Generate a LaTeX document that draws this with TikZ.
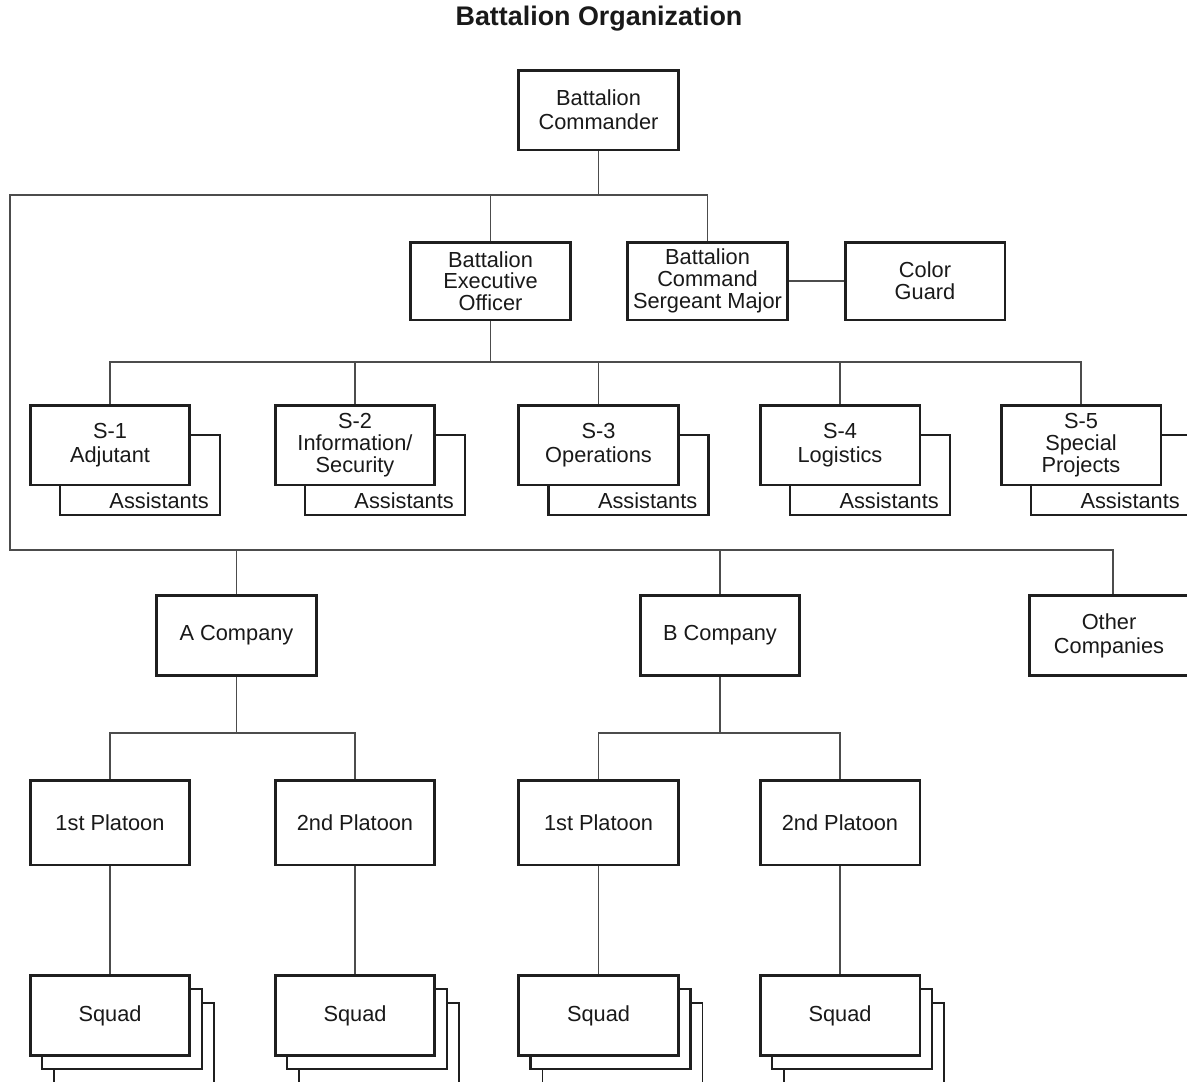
\documentclass[tikz,border=0pt]{standalone}
\usepackage{fontspec}
\setmainfont{Liberation Sans}
\begin{document}
\begin{tikzpicture}[x=0.02cm,y=-0.02cm,
  box/.style={draw=black!88, line width=1.7pt, fill=white, align=center, inner sep=0pt,
    minimum width=3.2cm, minimum height=1.6cm, text=black!90,
    font=\fontsize{12.4}{13.8}\selectfont},
  tight/.style={font=\fontsize{12.4}{12.4}\selectfont},
  backbox/.style={draw=black!88, line width=1.3pt, fill=white, inner sep=0pt,
    minimum width=3.2cm, minimum height=1.6cm},
  backthin/.style={draw=black!88, line width=0.9pt, fill=white, inner sep=0pt,
    minimum width=3.2cm, minimum height=1.6cm},
  conn/.style={draw=black!70, line width=0.7pt},
  asst/.style={anchor=south east, inner sep=0pt, text=black!90,
    font=\fontsize{12.4}{13.8}\selectfont}
]
\path[use as bounding box] (0,0) rectangle (1187,1082);

\node[font=\bfseries\fontsize{15.3}{17}\selectfont, text=black!90] (title) at (599,19) {Battalion Organization};

% top level
\node[box] (cmd) at (598.5,110) {Battalion\\Commander};
\node[box, tight, minimum height=1.56cm] (xo) at (490.5,281) {Battalion\\Executive\\Officer};
\node[box, tight, minimum height=1.56cm] (csm) at (707.5,281) {Battalion\\Command\\Sergeant Major};
\node[box, tight, minimum height=1.56cm] (cg) at (925,281) {Color\\Guard};

% staff sections with assistants
\foreach \n/\x in {a1/110, a2/355, a3/598.5, a4/840, a5/1081}{
  \node[backbox] (\n) at (\x+30,475) {};
  \node[asst] (\n t) at ([xshift=-0.24cm,yshift=0.14cm]\n.south east) {Assistants};
}
\node[box] (s1) at (110,445) {S-1\\Adjutant};
\node[box, tight] (s2) at (355,445) {S-2\\Information/\\Security};
\node[box] (s3) at (598.5,445) {S-3\\Operations};
\node[box] (s4) at (840,445) {S-4\\Logistics};
\node[box, tight] (s5) at (1081,445) {S-5\\Special\\Projects};

% companies
\node[box] (ac) at (236.5,635.5) {A Company};
\node[box] (bc) at (720,635.5) {B Company};
\node[box] (oc) at (1109,635.5) {Other\\Companies};

% platoons
\node[box, minimum height=1.7cm] (ap1) at (110,822.5) {1st Platoon};
\node[box, minimum height=1.7cm] (ap2) at (355,822.5) {2nd Platoon};
\node[box, minimum height=1.7cm] (bp1) at (598.5,822.5) {1st Platoon};
\node[box, minimum height=1.7cm] (bp2) at (840,822.5) {2nd Platoon};

% squads
\foreach \n/\x in {as1/110, as2/355, bs1/598.5, bs2/840}{
  \node[backthin] (\n c) at (\x+24,1043) {};
  \node[backbox] (\n b) at (\x+12,1029) {};
  \node[box] (\n) at (\x,1015.5) {Squad};
}

% connectors
\coordinate (L) at (10,195);
\coordinate (L2) at (10,550);
\coordinate (Sbar) at (0,362);
\coordinate (Pbar) at (0,733);
\draw[conn] (cmd.south) -- (cmd.south |- L);
\draw[conn] (csm.north) |- (L) -- (L2) -| ([xshift=0.08cm]oc.north);
\draw[conn] (xo.north) -- (xo.north |- L);
\draw[conn] (csm.east) -- (cg.west);
\draw[conn] (xo.south) -- (xo.south |- Sbar);
\draw[conn] (s1.north) |- (s5.north |- Sbar) -- (s5.north);
\draw[conn] (s2.north) -- (s2.north |- Sbar);
\draw[conn] (s3.north) -- (s3.north |- Sbar);
\draw[conn] (s4.north) -- (s4.north |- Sbar);
\draw[conn] (ac.north) -- (ac.north |- L2);
\draw[conn] (bc.north) -- (bc.north |- L2);
\draw[conn] (ac.south) -- (ac.south |- Pbar);
\draw[conn] (ap1.north) |- (ap2.north |- Pbar) -- (ap2.north);
\draw[conn] (bc.south) -- (bc.south |- Pbar);
\draw[conn] (bp1.north) |- (bp2.north |- Pbar) -- (bp2.north);
\draw[conn] (ap1.south) -- (as1.north);
\draw[conn] (ap2.south) -- (as2.north);
\draw[conn] (bp1.south) -- (bs1.north);
\draw[conn] (bp2.south) -- (bs2.north);
\end{tikzpicture}
\end{document}
